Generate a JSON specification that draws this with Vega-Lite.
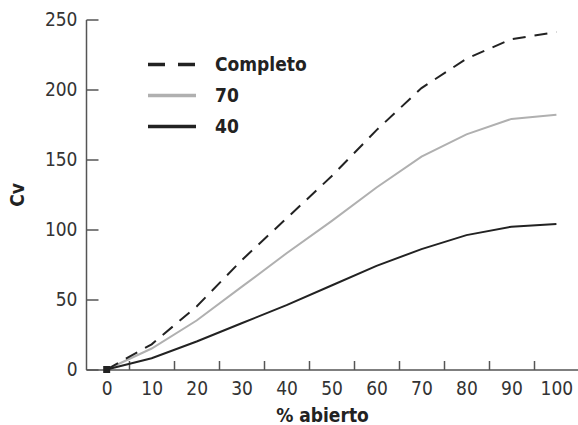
{
  "$schema": "https://vega.github.io/schema/vega-lite/v6.json",
  "width": 492,
  "height": 350,
  "autosize": {"type": "none"},
  "padding": {"left": 86, "top": 19.5, "right": 0, "bottom": 55.5},
  "background": "white",
  "config": {
    "view": {"stroke": null},
    "font": "Liberation Sans Narrow, DejaVu Sans Condensed, sans-serif"
  },
  "datasets": {
    "curves": [
      {"abierto": 0, "cv": 0, "serie": "Completo"},
      {"abierto": 10, "cv": 18, "serie": "Completo"},
      {"abierto": 20, "cv": 45, "serie": "Completo"},
      {"abierto": 30, "cv": 78, "serie": "Completo"},
      {"abierto": 40, "cv": 108, "serie": "Completo"},
      {"abierto": 50, "cv": 138, "serie": "Completo"},
      {"abierto": 60, "cv": 171, "serie": "Completo"},
      {"abierto": 70, "cv": 201, "serie": "Completo"},
      {"abierto": 80, "cv": 222, "serie": "Completo"},
      {"abierto": 90, "cv": 236, "serie": "Completo"},
      {"abierto": 100, "cv": 241, "serie": "Completo"},
      {"abierto": 0, "cv": 0, "serie": "70"},
      {"abierto": 10, "cv": 15, "serie": "70"},
      {"abierto": 20, "cv": 35, "serie": "70"},
      {"abierto": 30, "cv": 59, "serie": "70"},
      {"abierto": 40, "cv": 83, "serie": "70"},
      {"abierto": 50, "cv": 106, "serie": "70"},
      {"abierto": 60, "cv": 130, "serie": "70"},
      {"abierto": 70, "cv": 152, "serie": "70"},
      {"abierto": 80, "cv": 168, "serie": "70"},
      {"abierto": 90, "cv": 179, "serie": "70"},
      {"abierto": 100, "cv": 182, "serie": "70"},
      {"abierto": 0, "cv": 0, "serie": "40"},
      {"abierto": 10, "cv": 8, "serie": "40"},
      {"abierto": 20, "cv": 20, "serie": "40"},
      {"abierto": 30, "cv": 33, "serie": "40"},
      {"abierto": 40, "cv": 46, "serie": "40"},
      {"abierto": 50, "cv": 60, "serie": "40"},
      {"abierto": 60, "cv": 74, "serie": "40"},
      {"abierto": 70, "cv": 86, "serie": "40"},
      {"abierto": 80, "cv": 96, "serie": "40"},
      {"abierto": 90, "cv": 102, "serie": "40"},
      {"abierto": 100, "cv": 104, "serie": "40"}
    ],
    "origin": [{"abierto": 0, "cv": 0}]
  },
  "encoding": {
    "x": {
      "field": "abierto",
      "type": "quantitative",
      "scale": {"domain": [-4.6, 104.8], "nice": false, "zero": false},
      "axis": {
        "title": "% abierto",
        "values": [0, 10, 20, 30, 40, 50, 60, 70, 80, 90, 100],
        "grid": false,
        "domainColor": "#555",
        "domainWidth": 1.5,
        "tickColor": "#555",
        "tickWidth": 1.5,
        "tickSize": -9,
        "tickOffset": 22.5,
        "labelOffset": -22.5,
        "labelPadding": 19,
        "labelFontSize": 19,
        "labelColor": "#333",
        "labelFlush": false,
        "titleFontSize": 19,
        "titleFontWeight": "bold",
        "titleColor": "#222",
        "titleX": 236,
        "titlePadding": 8
      }
    },
    "y": {
      "field": "cv",
      "type": "quantitative",
      "scale": {"domain": [0, 250], "nice": false},
      "axis": {
        "title": "Cv",
        "values": [0, 50, 100, 150, 200, 250],
        "grid": false,
        "domainColor": "#555",
        "domainWidth": 1.5,
        "tickColor": "#555",
        "tickWidth": 1.5,
        "tickSize": -12,
        "labelPadding": 21,
        "labelFontSize": 19,
        "labelColor": "#333",
        "labelFlush": false,
        "titleFontSize": 19,
        "titleFontWeight": "bold",
        "titleColor": "#222",
        "titlePadding": 17
      }
    }
  },
  "layer": [
    {
      "data": {"name": "curves"},
      "transform": [{"filter": "datum.serie !== 'Completo'"}],
      "mark": {"type": "line", "strokeWidth": 2, "clip": false},
      "encoding": {
        "color": {
          "field": "serie",
          "type": "nominal",
          "sort": ["Completo", "70", "40"],
          "scale": {"domain": ["Completo", "70", "40"], "range": ["#222222", "#b0b0b0", "#222222"]},
          "legend": {
            "title": null,
            "orient": "none",
            "legendX": 72,
            "legendY": 31,
            "symbolType": "M-2,0H2",
            "symbolSize": 576,
            "symbolStrokeWidth": 3.5,
            "symbolFillColor": "transparent",
            "labelFontSize": 19,
            "labelFontWeight": "bold",
            "labelColor": "#222",
            "labelOffset": 29,
            "rowPadding": 7,
            "encode": {
              "symbols": {
                "update": {
                  "strokeWidth": {"value": 3.5},
                  "fill": {"value": "transparent"},
                  "strokeDash": {"signal": "datum.value === 'Completo' ? [17, 13] : [1, 0]"}
                }
              }
            }
          }
        }
      }
    },
    {
      "data": {"name": "curves"},
      "transform": [{"filter": "datum.serie === 'Completo'"}],
      "mark": {"type": "line", "strokeWidth": 2, "strokeDash": [13, 9], "clip": false},
      "encoding": {
        "color": {"field": "serie", "type": "nominal", "sort": ["Completo", "70", "40"]}
      }
    },
    {
      "data": {"name": "origin"},
      "mark": {"type": "point", "shape": "square", "filled": true, "size": 49, "color": "#222", "opacity": 1, "clip": false},
      "encoding": {}
    }
  ]
}
